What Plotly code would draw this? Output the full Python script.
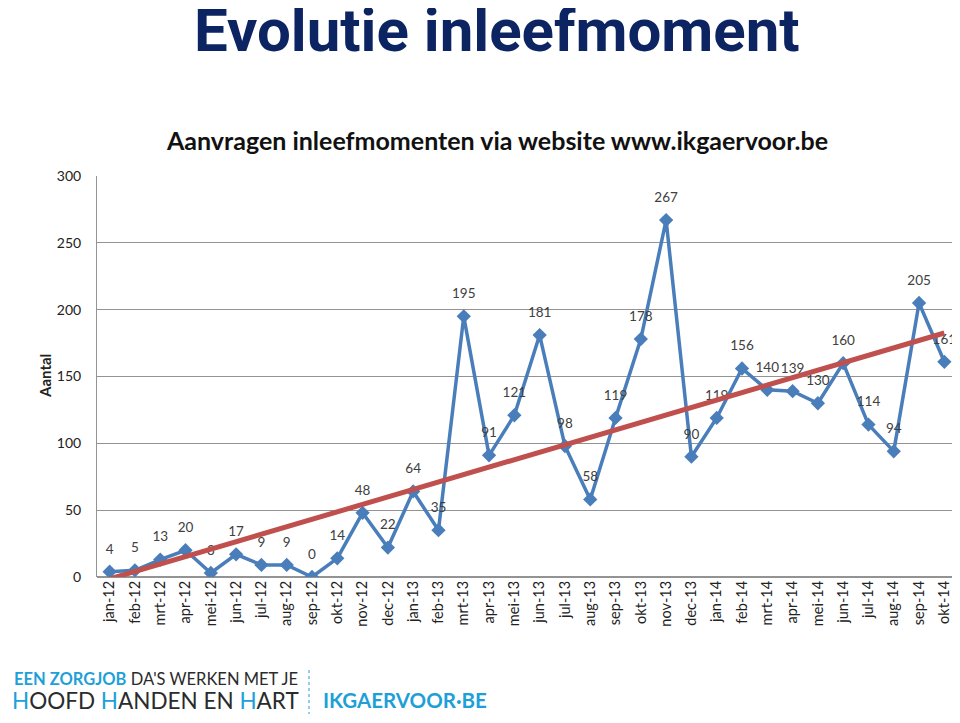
import numpy as np
import plotly.graph_objects as go

months = ["jan-12","feb-12","mrt-12","apr-12","mei-12","jun-12","jul-12","aug-12","sep-12","okt-12","nov-12","dec-12",
          "jan-13","feb-13","mrt-13","apr-13","mei-13","jun-13","jul-13","aug-13","sep-13","okt-13","nov-13","dec-13",
          "jan-14","feb-14","mrt-14","apr-14","mei-14","jun-14","jul-14","aug-14","sep-14","okt-14"]
aantal = [4,5,13,20,3,17,9,9,0,14,48,22,
          64,35,195,91,121,181,98,58,119,178,267,90,
          119,156,140,139,130,160,114,94,205,161]
y_ticks = [0,50,100,150,200,250,300]

idx = np.arange(len(aantal))
slope, intercept = np.polyfit(idx, aantal, 1)
trend = intercept + slope * idx

FONT = "Lato, 'Open Sans', sans-serif"
OFF = 8  # page body margin
PL, PT, PW, PH = 97, 176, 860, 401  # plot area in screen pixels

def px(xs):
    return (xs - PL) / PW
def py(ys):
    return (PT + PH - ys) / PH

fig = go.Figure()
fig.add_trace(go.Scatter(
    x=idx, y=aantal, mode="lines+markers",
    line=dict(color="#4a7ebb", width=3.5),
    marker=dict(symbol="diamond", size=11, color="#4a7ebb"),
    showlegend=False))
fig.add_trace(go.Scatter(
    x=idx, y=aantal, mode="markers+text",
    marker=dict(size=22, opacity=0),
    text=[str(v) for v in aantal], textposition="top center",
    textfont=dict(size=13.5, color="#404040", family=FONT),
    hoverinfo="skip", showlegend=False, cliponaxis=False))
fig.add_trace(go.Scatter(
    x=idx, y=trend, mode="lines",
    line=dict(color="#c0504d", width=5),
    hoverinfo="skip", showlegend=False))

fig.update_layout(
    width=960 - OFF, height=723 - OFF,
    margin=dict(l=PL - OFF, r=960 - OFF - (PL - OFF) - PW, t=PT - OFF, b=723 - OFF - (PT - OFF) - PH, autoexpand=False),
    paper_bgcolor="white", plot_bgcolor="white",
    font=dict(family=FONT, color="#333333"),
    xaxis=dict(
        range=[-0.5, len(aantal) - 0.5], automargin=False,
        tickmode="array", tickvals=list(idx), ticktext=months,
        tickangle=-90, tickfont=dict(size=14.5, color="#222222"),
        showgrid=False, showline=False, zeroline=False, ticks=""),
    yaxis=dict(
        range=[0, 300], tickvals=y_ticks, automargin=False,
        tickfont=dict(size=14, color="#222222"),
        showgrid=True, gridcolor="#939393", gridwidth=1,
        showline=True, linecolor="#939393", linewidth=1,
        zeroline=True, zerolinecolor="#939393",
        ticks="", ticklabelstandoff=12),
)

ann = []
ann.append(dict(text="<b>Evolutie inleefmoment</b>", xref="paper", yref="paper",
                x=px(497), y=py(30), xanchor="center", yanchor="middle",
                showarrow=False, font=dict(size=60, color="#0d2462", family="Roboto, sans-serif")))
ann.append(dict(text="<b>Aanvragen inleefmomenten via website www.ikgaervoor.be</b>", xref="paper", yref="paper",
                x=px(497), y=py(140), xanchor="center", yanchor="middle",
                showarrow=False, font=dict(size=25, color="#111111", family=FONT)))
ann.append(dict(text="<b>Aantal</b>", xref="paper", yref="paper", textangle=-90,
                x=px(45), y=py(376), xanchor="center", yanchor="middle",
                showarrow=False, font=dict(size=15, color="#222222", family=FONT)))
# footer
ann.append(dict(text="<b><span style='color:#1e9fd8'>EEN ZORGJOB</span></b> DA'S WERKEN MET JE", xref="paper", yref="paper",
                x=px(12), y=py(679), xanchor="left", yanchor="middle", showarrow=False,
                font=dict(size=16.5, color="#2b2b2b", family=FONT)))
ann.append(dict(text="<span style='color:#1e9fd8'>H</span>OOFD <span style='color:#1e9fd8'>H</span>ANDEN EN <span style='color:#1e9fd8'>H</span>ART",
                xref="paper", yref="paper",
                x=px(10), y=py(700), xanchor="left", yanchor="middle", showarrow=False,
                font=dict(size=22.5, color="#2b2b2b", family=FONT)))
ann.append(dict(text="<b>IKGAERVOOR·BE</b>", xref="paper", yref="paper",
                x=px(321), y=py(700), xanchor="left", yanchor="middle", showarrow=False,
                font=dict(size=20.5, color="#1e9fd8", family=FONT)))
fig.update_layout(annotations=ann)
fig.add_shape(type="line", xref="paper", yref="paper", x0=px(309), x1=px(309), y0=py(670), y1=py(714),
              line=dict(color="#1e9fd8", width=1, dash="dot"))

fig.write_html("out.html")
